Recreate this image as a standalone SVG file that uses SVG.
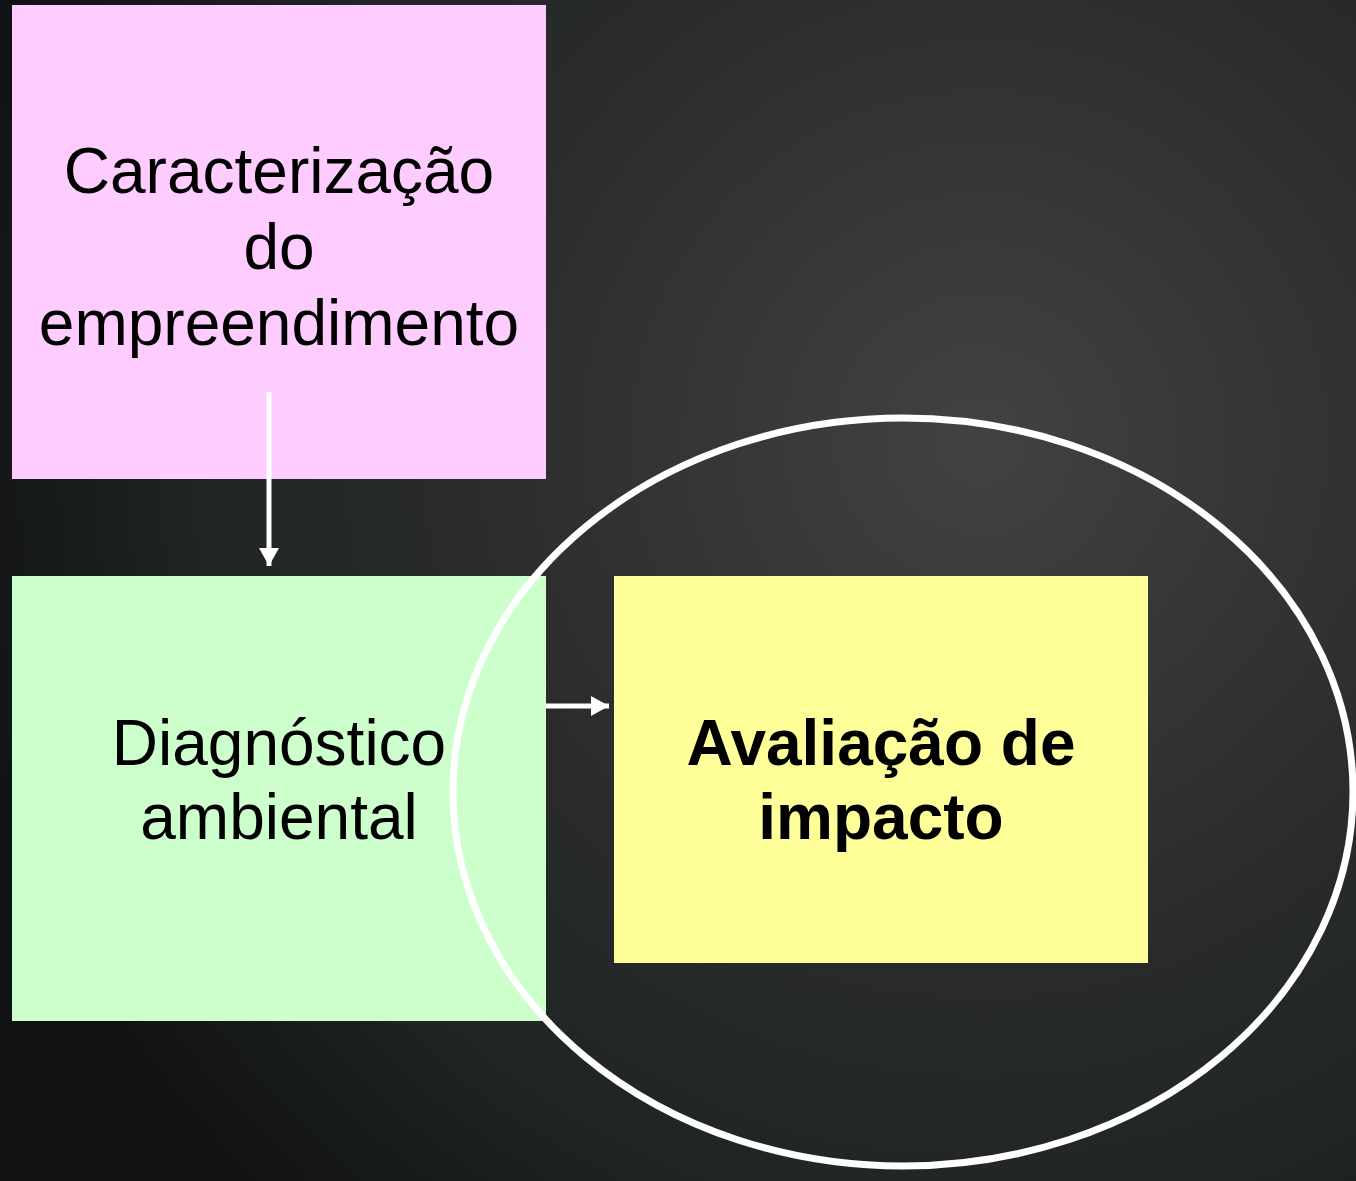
<svg xmlns="http://www.w3.org/2000/svg" width="1356" height="1181" viewBox="0 0 1356 1181">
<defs>
<radialGradient id="bg" gradientUnits="userSpaceOnUse" cx="980" cy="440" r="1050">
<stop offset="0" stop-color="#424242"/>
<stop offset="0.45" stop-color="#2c2d2d"/>
<stop offset="0.75" stop-color="#1f2424"/>
<stop offset="1" stop-color="#111213"/>
</radialGradient>
<marker id="ah" markerUnits="userSpaceOnUse" markerWidth="20" markerHeight="20" refX="18" refY="10" orient="auto">
<path d="M0,0 L18,10 L0,20 Z" fill="#ffffff"/>
</marker>
<style>
.t{font-family:"Liberation Sans",Arial,sans-serif;font-size:64px;fill:#000;text-anchor:middle}
.b{font-weight:bold}
.c{stroke:#fff;stroke-width:5;fill:none}
</style>
</defs>
<rect width="1356" height="1181" fill="url(#bg)"/>
<g id="node-caracterizacao">
<rect x="12" y="5" width="534" height="474" fill="#ffccff"/>
<text class="t" x="279" y="193">Caracterização</text>
<text class="t" x="279" y="269">do</text>
<text class="t" x="279" y="345">empreendimento</text>
</g>
<g id="node-diagnostico">
<rect x="12" y="576" width="534" height="445" fill="#ccffcc"/>
<text class="t" x="279" y="765">Diagnóstico</text>
<text class="t" x="279" y="839">ambiental</text>
</g>
<g id="node-avaliacao">
<rect x="614" y="576" width="534" height="387" fill="#ffff99"/>
<text class="t b" x="881" y="765">Avaliação de</text>
<text class="t b" x="881" y="839">impacto</text>
</g>
<g id="node-ellipse">
<ellipse cx="903" cy="792" rx="450" ry="374" fill="none" stroke="#fff" stroke-width="7"/>
</g>
<g id="connectors">
<line class="c" x1="269" y1="392" x2="269" y2="566" marker-end="url(#ah)"/>
<line class="c" x1="546" y1="706" x2="609" y2="706" marker-end="url(#ah)"/>
</g>
</svg>
